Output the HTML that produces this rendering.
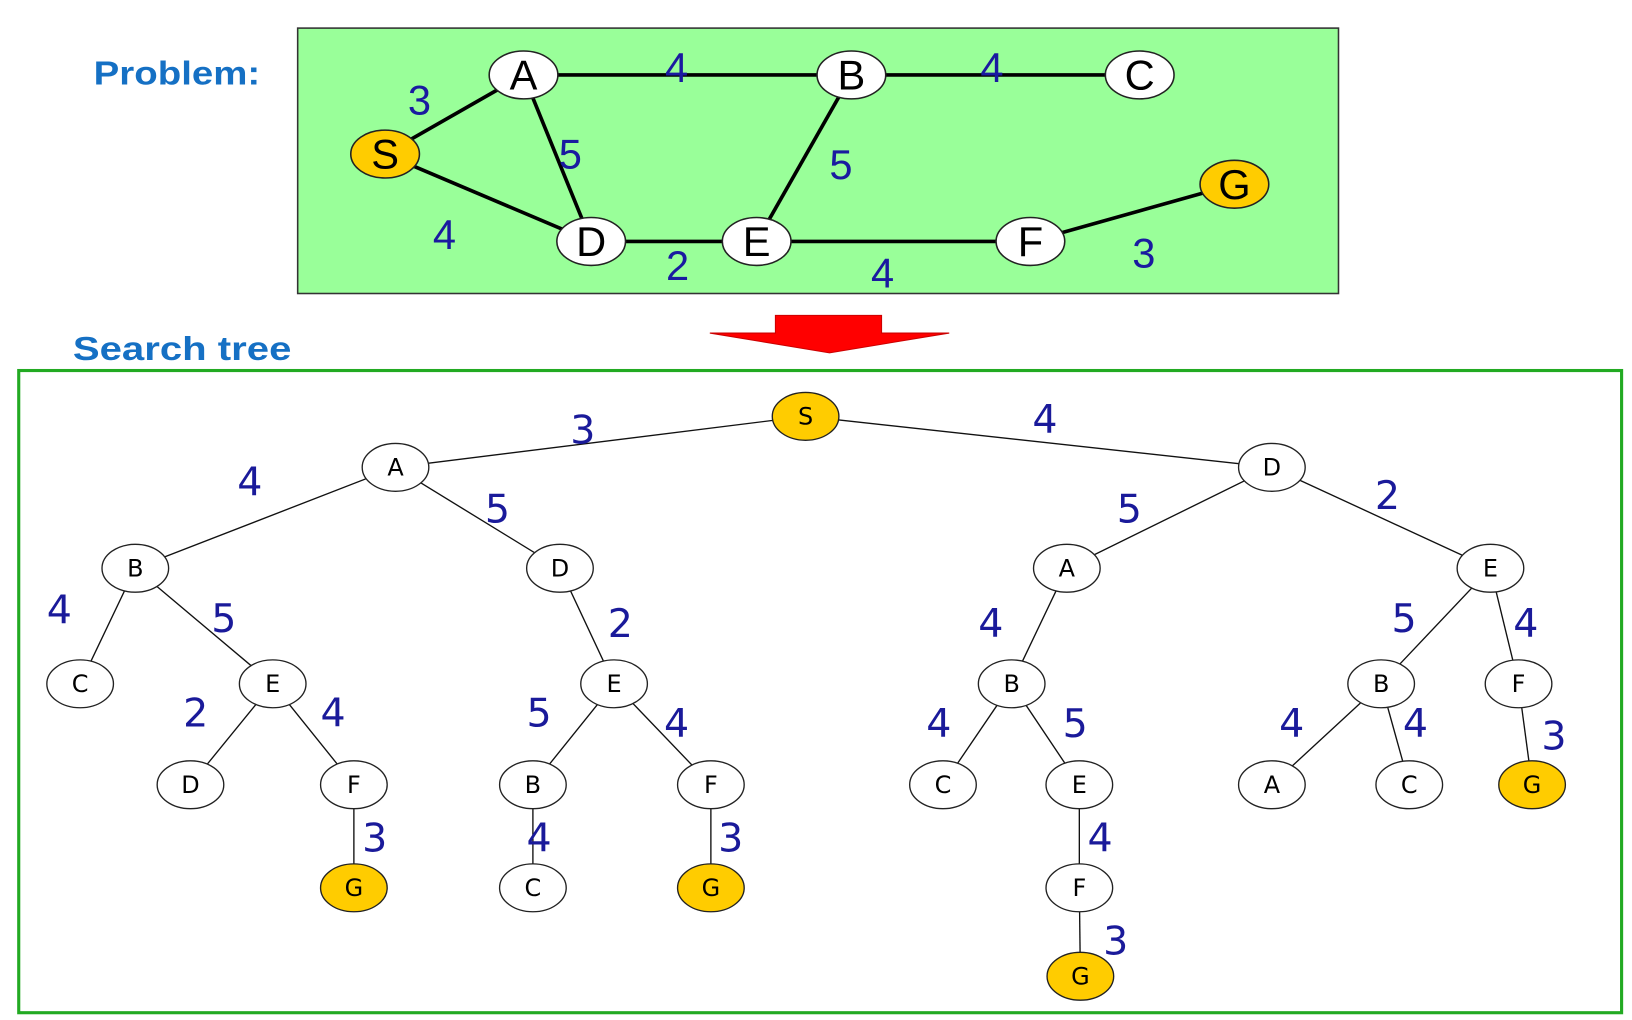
<!DOCTYPE html>
<html><head><meta charset="utf-8"><style>html,body{margin:0;padding:0;background:#fff}svg{display:block}</style></head>
<body>
<svg width="1632" height="1020" viewBox="0 0 1568 980" xmlns="http://www.w3.org/2000/svg" font-family="Liberation Sans, sans-serif">
<rect width="1568" height="980" fill="#fff"/>
<text x="90" y="81" font-size="32" font-weight="bold" fill="#1570c4" textLength="160" lengthAdjust="spacingAndGlyphs">Problem:</text>
<text x="70" y="346" font-size="32" font-weight="bold" fill="#1570c4" textLength="210" lengthAdjust="spacingAndGlyphs">Search tree</text>
<rect x="286" y="27" width="1000" height="255" fill="#99ff99" stroke="#333" stroke-width="1.5"/>
<g stroke="#000" stroke-width="3.5">
<line x1="370" y1="148" x2="503" y2="72"/><line x1="503" y1="72" x2="818" y2="72"/><line x1="818" y1="72" x2="1095" y2="72"/>
<line x1="503" y1="72" x2="568" y2="232"/><line x1="370" y1="148" x2="568" y2="232"/><line x1="818" y1="72" x2="727" y2="232"/>
<line x1="568" y1="232" x2="990" y2="232"/><line x1="990" y1="232" x2="1186" y2="177"/>
</g>
<g stroke="#222" stroke-width="1.5">
<ellipse cx="503" cy="72" rx="33" ry="23" fill="#fff"/><ellipse cx="818" cy="72" rx="33" ry="23" fill="#fff"/>
<ellipse cx="1095" cy="72" rx="33" ry="23" fill="#fff"/><ellipse cx="370" cy="148" rx="33" ry="23" fill="#ffcc00"/>
<ellipse cx="1186" cy="177" rx="33" ry="23" fill="#ffcc00"/><ellipse cx="568" cy="232" rx="33" ry="23" fill="#fff"/>
<ellipse cx="727" cy="232" rx="33" ry="23" fill="#fff"/><ellipse cx="990" cy="232" rx="33" ry="23" fill="#fff"/>
</g>
<g font-size="40" text-anchor="middle" fill="#000">
<text x="503" y="86">A</text><text x="818" y="86">B</text><text x="1095" y="86">C</text><text x="370" y="162">S</text>
<text x="1186" y="191">G</text><text x="568" y="246">D</text><text x="727" y="246">E</text><text x="990" y="246">F</text>
</g>
<g font-size="40" text-anchor="middle" fill="#1a1aa0">
<text x="403" y="110">3</text><text x="650" y="79">4</text><text x="953" y="79">4</text><text x="548" y="162">5</text>
<text x="808" y="172">5</text><text x="427" y="239">4</text><text x="651" y="269">2</text><text x="848" y="276">4</text><text x="1099" y="257">3</text>
</g>
<polygon points="745,303 847,303 847,320 912,320 797,339 682,320 745,320" fill="#ff0000" stroke="#cc0000" stroke-width="1"/>
<rect x="18" y="356" width="1540" height="617" fill="none" stroke="#22aa22" stroke-width="3"/>
<g stroke="#111" stroke-width="1.3">
<line x1="774" y1="400" x2="380" y2="449"/><line x1="774" y1="400" x2="1222" y2="449"/>
<line x1="380" y1="449" x2="130" y2="546"/><line x1="380" y1="449" x2="538" y2="546"/>
<line x1="1222" y1="449" x2="1025" y2="546"/><line x1="1222" y1="449" x2="1432" y2="546"/>
<line x1="130" y1="546" x2="77" y2="657"/><line x1="130" y1="546" x2="262" y2="657"/>
<line x1="538" y1="546" x2="590" y2="657"/><line x1="1025" y1="546" x2="972" y2="657"/>
<line x1="1432" y1="546" x2="1327" y2="657"/><line x1="1432" y1="546" x2="1459" y2="657"/>
<line x1="262" y1="657" x2="183" y2="754"/><line x1="262" y1="657" x2="340" y2="754"/>
<line x1="590" y1="657" x2="512" y2="754"/><line x1="590" y1="657" x2="683" y2="754"/>
<line x1="972" y1="657" x2="906" y2="754"/><line x1="972" y1="657" x2="1037" y2="754"/>
<line x1="1327" y1="657" x2="1222" y2="754"/><line x1="1327" y1="657" x2="1354" y2="754"/>
<line x1="1459" y1="657" x2="1472" y2="754"/>
<line x1="340" y1="754" x2="340" y2="853"/><line x1="512" y1="754" x2="512" y2="853"/>
<line x1="683" y1="754" x2="683" y2="853"/><line x1="1037" y1="754" x2="1037" y2="853"/><line x1="1037" y1="853" x2="1038" y2="938"/>
</g>
<g stroke="#222" stroke-width="1.3" fill="#fff">
<ellipse cx="774" cy="400" rx="32" ry="23" fill="#ffcc00"/>
<ellipse cx="380" cy="449" rx="32" ry="23"/><ellipse cx="1222" cy="449" rx="32" ry="23"/>
<ellipse cx="130" cy="546" rx="32" ry="23"/><ellipse cx="538" cy="546" rx="32" ry="23"/><ellipse cx="1025" cy="546" rx="32" ry="23"/><ellipse cx="1432" cy="546" rx="32" ry="23"/>
<ellipse cx="77" cy="657" rx="32" ry="23"/><ellipse cx="262" cy="657" rx="32" ry="23"/><ellipse cx="590" cy="657" rx="32" ry="23"/><ellipse cx="972" cy="657" rx="32" ry="23"/><ellipse cx="1327" cy="657" rx="32" ry="23"/><ellipse cx="1459" cy="657" rx="32" ry="23"/>
<ellipse cx="183" cy="754" rx="32" ry="23"/><ellipse cx="340" cy="754" rx="32" ry="23"/><ellipse cx="512" cy="754" rx="32" ry="23"/><ellipse cx="683" cy="754" rx="32" ry="23"/><ellipse cx="906" cy="754" rx="32" ry="23"/><ellipse cx="1037" cy="754" rx="32" ry="23"/><ellipse cx="1222" cy="754" rx="32" ry="23"/><ellipse cx="1354" cy="754" rx="32" ry="23"/><ellipse cx="1472" cy="754" rx="32" ry="23" fill="#ffcc00"/>
<ellipse cx="340" cy="853" rx="32" ry="23" fill="#ffcc00"/><ellipse cx="512" cy="853" rx="32" ry="23"/><ellipse cx="683" cy="853" rx="32" ry="23" fill="#ffcc00"/><ellipse cx="1037" cy="853" rx="32" ry="23"/>
<ellipse cx="1038" cy="938" rx="32" ry="23" fill="#ffcc00"/>
</g>
<g font-family="DejaVu Sans, sans-serif" font-size="23" text-anchor="middle" fill="#000">
<text x="774" y="408">S</text><text x="380" y="457">A</text><text x="1222" y="457">D</text>
<text x="130" y="554">B</text><text x="538" y="554">D</text><text x="1025" y="554">A</text><text x="1432" y="554">E</text>
<text x="77" y="665">C</text><text x="262" y="665">E</text><text x="590" y="665">E</text><text x="972" y="665">B</text><text x="1327" y="665">B</text><text x="1459" y="665">F</text>
<text x="183" y="762">D</text><text x="340" y="762">F</text><text x="512" y="762">B</text><text x="683" y="762">F</text><text x="906" y="762">C</text><text x="1037" y="762">E</text><text x="1222" y="762">A</text><text x="1354" y="762">C</text><text x="1472" y="762">G</text>
<text x="340" y="861">G</text><text x="512" y="861">C</text><text x="683" y="861">G</text><text x="1037" y="861">F</text><text x="1038" y="946">G</text>
</g>
<g font-family="DejaVu Sans, sans-serif" font-size="38" text-anchor="middle" fill="#1a1a9a">
<text x="560" y="426">3</text><text x="1004" y="416">4</text><text x="240" y="476">4</text><text x="478" y="502">5</text>
<text x="1085" y="502">5</text><text x="1333" y="489">2</text><text x="57" y="599">4</text><text x="215" y="607">5</text>
<text x="596" y="612">2</text><text x="952" y="612">4</text><text x="1349" y="607">5</text><text x="1466" y="612">4</text>
<text x="188" y="698">2</text><text x="320" y="698">4</text><text x="518" y="698">5</text><text x="650" y="708">4</text>
<text x="902" y="708">4</text><text x="1033" y="708">5</text><text x="1241" y="708">4</text><text x="1360" y="708">4</text>
<text x="1493" y="720">3</text><text x="360" y="818">3</text><text x="518" y="818">4</text><text x="702" y="818">3</text>
<text x="1057" y="818">4</text><text x="1072" y="917">3</text>
</g>
</svg>
</body></html>
